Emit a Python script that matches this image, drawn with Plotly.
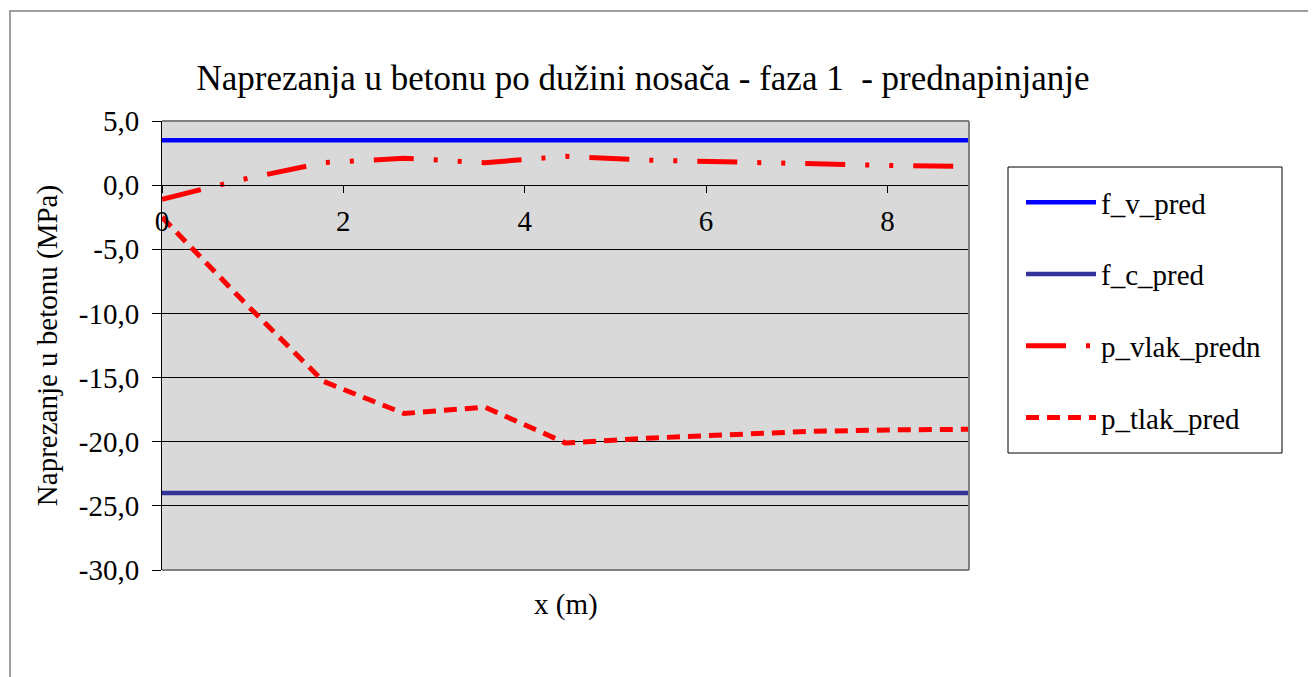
import plotly.graph_objects as go

# ---- data ----
x_m = [0, 0.89, 1.78, 2.67, 3.56, 4.45, 5.34, 6.23, 7.12, 8.01, 8.9]
f_v_pred = [3.5, 3.5, 3.5, 3.5, 3.5, 3.5, 3.5, 3.5, 3.5, 3.5, 3.5]
f_c_pred = [-24.0, -24.0, -24.0, -24.0, -24.0, -24.0, -24.0, -24.0, -24.0, -24.0, -24.0]
p_vlak_predn = [-1.1, 0.45, 1.75, 2.1, 1.75, 2.25, 1.95, 1.8, 1.62, 1.54, 1.45]
p_tlak_pred = [-2.5, -9.0, -15.3, -17.8, -17.3, -20.1, -19.73, -19.42, -19.2, -19.08, -19.03]

y_tickvals = [5, 0, -5, -10, -15, -20, -25, -30]
y_ticktext = ["5,0", "0,0", "-5,0", "-10,0", "-15,0", "-20,0", "-25,0", "-30,0"]
x_tickvals = [0, 2, 4, 6, 8]
x_ticktext = ["0", "2", "4", "6", "8"]

FONT = "Liberation Serif"
OFF = 8  # page body margin offset

L, T, PW, PH = 162 - OFF, 121 - OFF, 807, 449


def px_x(px):
    return (px - 162) / PW


def px_y(py):
    return 1 - (py - 121) / PH


fig = go.Figure()
fig.add_trace(go.Scatter(x=x_m, y=f_v_pred, name="f_v_pred", mode="lines",
                         line=dict(color="#0000FF", width=4.5), legendgroup="a"))
fig.add_trace(go.Scatter(x=x_m, y=f_c_pred, name="f_c_pred", mode="lines",
                         line=dict(color="#333399", width=4.5), legendgroup="b"))
fig.add_trace(go.Scatter(x=x_m, y=p_vlak_predn, name="p_vlak_predn", mode="lines",
                         line=dict(color="#FF0000", width=5,
                                   dash="40px,20px,4px,20px,4px,20px"), legendgroup="c"))
fig.add_trace(go.Scatter(x=x_m, y=p_tlak_pred, name="p_tlak_pred", mode="lines",
                         line=dict(color="#FF0000", width=5, dash="13px,8px"), legendgroup="d"))

fig.update_layout(
    width=1316, height=677,
    margin=dict(l=L, r=1316 - L - PW, t=T, b=677 - T - PH),
    paper_bgcolor="white",
    plot_bgcolor="#D9D9D9",
    font=dict(family=FONT, size=29, color="black"),
    title=dict(text="Naprezanja u betonu po dužini nosača - faza 1  - prednapinjanje",
               x=(643 - OFF) / 1316, xanchor="center", y=1 - (78 - OFF) / 677, yanchor="middle",
               font=dict(family=FONT, size=35, color="black")),
    showlegend=True,
    legend=dict(x=px_x(1021), xanchor="left", y=px_y(177), yanchor="top",
                bgcolor="rgba(0,0,0,0)", borderwidth=0,
                font=dict(family=FONT, size=29, color="black"),
                tracegroupgap=31, traceorder="grouped", itemwidth=70),
)

fig.update_xaxes(
    range=[0, 8.9], tickvals=x_tickvals, ticktext=x_ticktext,
    anchor="free", position=30 / 35,
    showline=True, linecolor="black", linewidth=1,
    ticks="outside", ticklen=7, tickcolor="black", tickwidth=1,
    ticklabelstandoff=3,
    showgrid=False, zeroline=False,
)
fig.update_yaxes(
    range=[-30, 5], tickvals=y_tickvals, ticktext=y_ticktext,
    showline=True, linecolor="black", linewidth=1,
    ticks="outside", ticklen=9, tickcolor="black", tickwidth=1,
    ticklabelstandoff=7,
    showgrid=True, gridcolor="black", gridwidth=1,
    zeroline=False,
    title=dict(text="Naprezanje u betonu (MPa)", standoff=12,
               font=dict(family=FONT, size=29, color="black")),
)

# x axis title (axis crosses at y=0, so title placed at the bottom)
fig.add_annotation(text="x (m)", xref="paper", yref="paper", x=0.5, y=px_y(604),
                   xanchor="center", yanchor="middle", showarrow=False,
                   font=dict(family=FONT, size=29, color="black"))

# legend box
fig.add_shape(type="rect", xref="paper", yref="paper",
              x0=px_x(1008), x1=px_x(1282), y0=px_y(453), y1=px_y(167),
              line=dict(color="black", width=1), fillcolor="white", layer="below")

# plot-area border (top, right, bottom) in gray
for (x0, y0, x1, y1) in [(0, 1, 1, 1), (1, 0, 1, 1), (0, 0, 1, 0)]:
    fig.add_shape(type="line", xref="paper", yref="paper", x0=x0, y0=y0, x1=x1, y1=y1,
                  line=dict(color="#808080", width=2), layer="above")

# outer chart border
fig.add_shape(type="rect", xref="paper", yref="paper",
              x0=px_x(10), x1=px_x(1340), y0=px_y(700), y1=px_y(11),
              line=dict(color="#808080", width=1.5), layer="above")

fig.write_html("out.html")
